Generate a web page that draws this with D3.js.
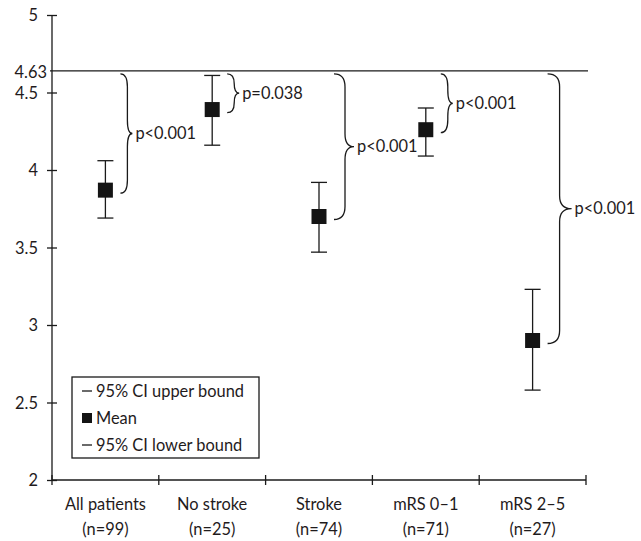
<!DOCTYPE html>
<html>
<head>
<meta charset="utf-8">
<script src="https://cdn.jsdelivr.net/npm/d3@7"></script>
<style>
  html, body { margin: 0; padding: 0; background: #fff; }
  svg { display: block; }
  text { font-family: Lato, "Noto Sans", sans-serif; fill: #1f1b1c; }
</style>
</head>
<body>
<svg id="chart" width="641" height="541"></svg>
<script>
const categories = ["All patients", "No stroke", "Stroke", "mRS 0\u20131", "mRS 2\u20135"];
const nLabels = ["(n=99)", "(n=25)", "(n=74)", "(n=71)", "(n=27)"];
const means = [3.87, 4.39, 3.70, 4.26, 2.90];
const upperCI = [4.06, 4.61, 3.92, 4.40, 3.23];
const lowerCI = [3.69, 4.16, 3.47, 4.09, 2.58];
const referenceValue = 4.63;
const pValues = ["p<0.001", "p=0.038", "p<0.001", "p<0.001", "p<0.001"];
const yTicks = [2, 2.5, 3, 3.5, 4, 4.5, 5];
const legendLabels = ["95% CI upper bound", "Mean", "95% CI lower bound"];

const ink = "#1a1a1a";
const FS = 16.4;
const svg = d3.select("#chart");

const x = d3.scaleBand().domain(categories).range([52, 586]).padding(0);
const y = d3.scaleLinear().domain([2, 5]).range([480, 15]);

// Y axis
const yAxis = svg.append("g")
  .attr("transform", "translate(52,0)")
  .call(d3.axisLeft(y).tickValues(yTicks).tickFormat(d => String(d)).tickSize(5).tickPadding(9));
yAxis.select(".domain").attr("d", `M0,${y(5)}V${y(2)}`).attr("stroke", ink).attr("stroke-width", 1.3);
yAxis.selectAll(".tick line").attr("x1", -5).attr("x2", 5).attr("stroke", ink).attr("stroke-width", 1.3);
yAxis.selectAll(".tick text").attr("font-size", FS).attr("font-family", "Lato").attr("fill", "#1f1b1c").attr("dy", "0.35em");

// Reference line 4.63
const yRef = y(referenceValue) - 1.5;
svg.append("line")
  .attr("x1", 50).attr("x2", 588)
  .attr("y1", yRef).attr("y2", yRef)
  .attr("stroke", ink).attr("stroke-width", 1.3);
svg.append("text")
  .attr("x", 47).attr("y", yRef + 1).attr("dy", "0.35em")
  .attr("text-anchor", "end").attr("font-size", FS)
  .text(String(referenceValue));

// X axis
const xAxis = svg.append("g").attr("transform", "translate(0,480)");
xAxis.append("line").attr("x1", 52).attr("x2", 586).attr("stroke", ink).attr("stroke-width", 1.3);
const boundaries = categories.map(c => x(c)).concat([x.range()[1]]);
xAxis.selectAll("line.tk").data(boundaries).join("line")
  .attr("class", "tk")
  .attr("x1", d => d).attr("x2", d => d).attr("y1", -5).attr("y2", 5)
  .attr("stroke", ink).attr("stroke-width", 1.3);
const labels = xAxis.selectAll("text.cat").data(categories).join("text")
  .attr("class", "cat")
  .attr("x", d => x(d) + x.bandwidth() / 2)
  .attr("text-anchor", "middle").attr("font-size", FS);
labels.append("tspan").attr("x", d => x(d) + x.bandwidth() / 2).attr("y", 30).text(d => d);
labels.append("tspan").attr("x", d => x(d) + x.bandwidth() / 2).attr("y", 55).text((d, i) => nLabels[i]);

// Error bars
const rows = categories.map((c, i) => ({ c, mean: means[i], hi: upperCI[i], lo: lowerCI[i], p: pValues[i] }));
const cx = d => x(d.c) + x.bandwidth() / 2;
const g = svg.append("g");
g.selectAll("line.v").data(rows).join("line").attr("class", "v")
  .attr("x1", cx).attr("x2", cx).attr("y1", d => y(d.hi)).attr("y2", d => y(d.lo))
  .attr("stroke", ink).attr("stroke-width", 1.3);
g.selectAll("line.capH").data(rows).join("line").attr("class", "capH")
  .attr("x1", d => cx(d) - 8).attr("x2", d => cx(d) + 8).attr("y1", d => y(d.hi)).attr("y2", d => y(d.hi))
  .attr("stroke", ink).attr("stroke-width", 1.3);
g.selectAll("line.capL").data(rows).join("line").attr("class", "capL")
  .attr("x1", d => cx(d) - 8).attr("x2", d => cx(d) + 8).attr("y1", d => y(d.lo)).attr("y2", d => y(d.lo))
  .attr("stroke", ink).attr("stroke-width", 1.3);
g.selectAll("rect.m").data(rows).join("rect").attr("class", "m")
  .attr("x", d => cx(d) - 7.5).attr("y", d => y(d.mean) - 7.5)
  .attr("width", 15).attr("height", 15).attr("fill", "#141414");

// Braces (from the reference line down to each group's mean)
function braceShape(span) {
  if (span > 200) return { w: 12, t: 12 };
  if (span > 130) return { w: 11, t: 9 };
  return { w: 7, t: 5 };
}
function bracePath(x0, yT, yB) {
  const span = yB - yT;
  const { w, t } = braceShape(span);
  const ym = (yT + yB) / 2;
  const r = Math.min(13, span / 4);
  const xs = x0 + w;
  return `M${x0},${yT} Q${xs},${yT} ${xs},${yT + r} L${xs},${ym - r} Q${xs},${ym} ${xs + t},${ym} ` +
         `Q${xs},${ym} ${xs},${ym + r} L${xs},${yB - r} Q${xs},${yB} ${x0},${yB}`;
}
const bg = svg.append("g");
rows.forEach(d => {
  const x0 = cx(d) + 15;
  const yT = yRef + 3;
  const yB = y(d.mean) + 3;
  const { w, t } = braceShape(yB - yT);
  bg.append("path").attr("d", bracePath(x0, yT, yB))
    .attr("fill", "none").attr("stroke", ink).attr("stroke-width", 1.3);
  bg.append("text").attr("x", x0 + w + t + 3).attr("y", (yT + yB) / 2).attr("dy", "0.35em")
    .attr("font-size", FS).text(d.p);
});

// Legend
const lg = svg.append("g");
lg.append("rect").attr("x", 72).attr("y", 377).attr("width", 187).attr("height", 81)
  .attr("fill", "#fff").attr("stroke", ink).attr("stroke-width", 1.3);
const ly = [391, 418, 445];
legendLabels.forEach((lab, i) => {
  if (i === 1) {
    lg.append("rect").attr("x", 82).attr("y", ly[i] - 5).attr("width", 10).attr("height", 10).attr("fill", "#141414");
  } else {
    lg.append("line").attr("x1", 82).attr("x2", 92).attr("y1", ly[i]).attr("y2", ly[i])
      .attr("stroke", ink).attr("stroke-width", 1.3);
  }
  lg.append("text").attr("x", 96).attr("y", ly[i]).attr("dy", "0.35em").attr("font-size", FS).text(lab);
});
</script>
</body>
</html>
